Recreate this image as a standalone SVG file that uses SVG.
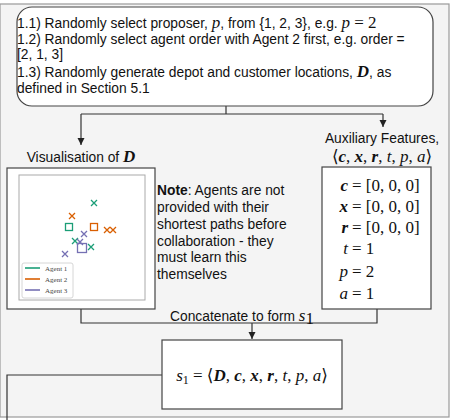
<svg xmlns="http://www.w3.org/2000/svg" width="452" height="420" viewBox="0 0 452 420">
<defs>
<marker id="arr" markerUnits="userSpaceOnUse" markerWidth="8" markerHeight="8" refX="7" refY="4" orient="auto">
<path d="M0,0.5 L7,4 L0,7.5 z" fill="#222"/>
</marker>
<style>
.t{font-family:"Liberation Sans",Arial,sans-serif;font-size:13.8px;fill:#111}
.m{font-family:"Liberation Serif","DejaVu Serif",serif;font-size:17px;fill:#111}
.mi{font-style:italic}
.mb{font-style:italic;font-weight:bold}
.box{fill:#fff;stroke:#444;stroke-width:1.2}
.conn{fill:none;stroke:#333;stroke-width:1.2}
.lg{font-family:"Liberation Serif",serif;font-size:7px;fill:#444}
</style>
</defs>
<rect x="0" y="4" width="449" height="413" fill="#f4f4f4" stroke="#999" stroke-width="1.2"/>

<g id="connectors">
<path class="conn" d="M226,106 V114 M81,114 H383"/>
<path class="conn" d="M81,114 V145" marker-end="url(#arr)"/>
<path class="conn" d="M383,114 V127" marker-end="url(#arr)"/>
<path class="conn" d="M81,309 V323 H377 V309"/>
<path class="conn" d="M252,323 V339" marker-end="url(#arr)"/>
<path class="conn" d="M162,375 H7 V420"/>
</g>

<g id="step1">
<rect class="box" x="17" y="7" width="416" height="99" rx="15"/>
<text class="t" x="17" y="28">1.1) Randomly select proposer, <tspan class="m mi">p</tspan>, from {1, 2, 3}, e.g. <tspan class="m mi">p</tspan><tspan class="m"> = 2</tspan></text>
<text class="t" x="17" y="44">1.2) Randomly select agent order with Agent 2 first, e.g. order =</text>
<text class="t" x="17" y="59">[2, 1, 3]</text>
<text class="t" x="17" y="77">1.3) Randomly generate depot and customer locations, <tspan class="m mb">D</tspan>, as</text>
<text class="t" x="17" y="93">defined in Section 5.1</text>
</g>

<g id="visualisation">
<text class="t" x="81" y="162" text-anchor="middle">Visualisation of <tspan class="m mb">D</tspan></text>
<rect class="box" x="7" y="168" width="148" height="141" stroke="#555"/>
<rect x="19" y="175" width="126" height="125" fill="#fff" stroke="#aaa" stroke-width="1"/>
<g fill="none" stroke-width="1.3">
<g stroke="#1b9e77">
<path d="M91,200 l6,6 m0,-6 l-6,6"/>
<path d="M72,238 l6,6 m0,-6 l-6,6"/>
<path d="M88,244 l6,6 m0,-6 l-6,6"/>
<rect x="65.5" y="223.5" width="7" height="7"/>
</g>
<g stroke="#d95f02">
<path d="M69,213 l6,6 m0,-6 l-6,6"/>
<path d="M104,227 l6,6 m0,-6 l-6,6"/>
<path d="M110,227 l6,6 m0,-6 l-6,6"/>
<rect x="90.5" y="223.5" width="7" height="7"/>
</g>
<g stroke="#7570b3">
<path d="M81,231 l6,6 m0,-6 l-6,6"/>
<path d="M77,239 l6,6 m0,-6 l-6,6"/>
<path d="M62,251 l6,6 m0,-6 l-6,6"/>
<rect x="77.5" y="243.5" width="9" height="9"/>
</g>
</g>
<rect x="22" y="263" width="51" height="35" rx="2" fill="#fff" stroke="#ccc" stroke-width="0.8"/>
<path d="M25,268 H40" stroke="#1b9e77" stroke-width="1.6"/>
<path d="M25,279 H40" stroke="#d95f02" stroke-width="1.6"/>
<path d="M25,290 H40" stroke="#7570b3" stroke-width="1.6"/>
<text class="lg" x="45" y="270.5">Agent 1</text>
<text class="lg" x="45" y="281.5">Agent 2</text>
<text class="lg" x="45" y="292.5">Agent 3</text>
</g>

<g id="note">
<text class="t" x="157" y="195"><tspan font-weight="bold">Note</tspan>: Agents are not</text>
<text class="t" x="157" y="212">provided with their</text>
<text class="t" x="157" y="229">shortest paths before</text>
<text class="t" x="157" y="246">collaboration - they</text>
<text class="t" x="157" y="262">must learn this</text>
<text class="t" x="157" y="279">themselves</text>
</g>

<g id="auxiliary">
<text class="t" x="382" y="143" text-anchor="middle">Auxiliary Features,</text>
<text class="m" x="382" y="162" text-anchor="middle">⟨<tspan class="mb">c</tspan>, <tspan class="mb">x</tspan>, <tspan class="mb">r</tspan>, <tspan class="mi">t</tspan>, <tspan class="mi">p</tspan>, <tspan class="mi">a</tspan>⟩</text>
<rect class="box" x="322" y="167" width="109" height="142"/>
<text class="m" x="348" y="191" text-anchor="end"><tspan class="mb">c</tspan></text>
<text class="m" x="348" y="212" text-anchor="end"><tspan class="mb">x</tspan></text>
<text class="m" x="348" y="233" text-anchor="end"><tspan class="mb">r</tspan></text>
<text class="m" x="348" y="254" text-anchor="end"><tspan class="mi">t</tspan></text>
<text class="m" x="348" y="277" text-anchor="end"><tspan class="mi">p</tspan></text>
<text class="m" x="348" y="299" text-anchor="end"><tspan class="mi">a</tspan></text>
<text class="m" x="352" y="191">= [0, 0, 0]</text>
<text class="m" x="352" y="212">= [0, 0, 0]</text>
<text class="m" x="352" y="233">= [0, 0, 0]</text>
<text class="m" x="352" y="254">= 1</text>
<text class="m" x="352" y="277">= 2</text>
<text class="m" x="352" y="299">= 1</text>
</g>

<g id="concat-label">
<text class="t" x="242" y="321" text-anchor="middle">Concatenate to form <tspan class="m mi">s</tspan><tspan class="m" font-size="11" dy="3">1</tspan></text>
</g>

<g id="state">
<rect class="box" x="162" y="340" width="180" height="69"/>
<text class="m" x="252" y="381" text-anchor="middle" font-size="18"><tspan class="mi">s</tspan><tspan font-size="12" dy="3">1</tspan><tspan dy="-3"> = ⟨</tspan><tspan class="mb">D</tspan>, <tspan class="mb">c</tspan>, <tspan class="mb">x</tspan>, <tspan class="mb">r</tspan>, <tspan class="mi">t</tspan>, <tspan class="mi">p</tspan>, <tspan class="mi">a</tspan>⟩</text>
</g>
</svg>
